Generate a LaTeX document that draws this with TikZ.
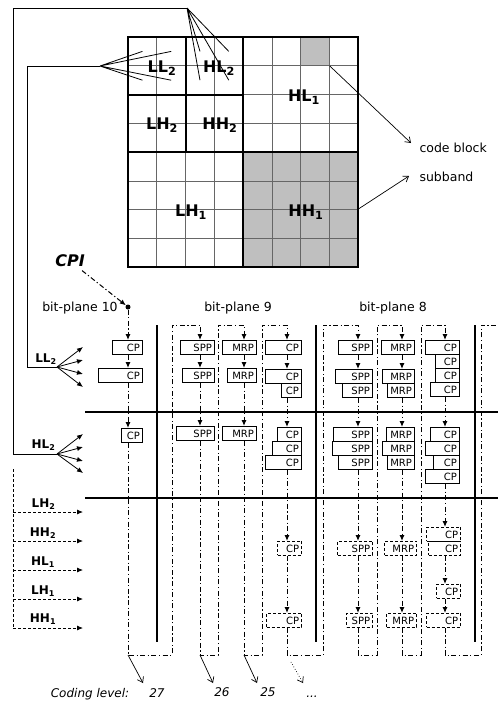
\documentclass[tikz,border=0pt]{standalone}
\usepackage{fontspec}
\setmainfont{DejaVu Sans}
\usetikzlibrary{arrows.meta}

\begin{document}
\begin{tikzpicture}[x=1pt, y=-1pt,
    passbox/.style={draw, line width=1.2pt, anchor=north east, align=right, inner xsep=2.5pt, inner ysep=3.3pt, text height=7.4pt, text depth=0pt, font=\fontsize{10}{11}\selectfont},
    dpassbox/.style={passbox, line width=0.8pt, dash pattern=on 3pt off 2pt},
    flowline/.style={line width=1pt, dash pattern=on 5pt off 2.5pt on 1.2pt off 2.5pt},
    flowtip/.style={-{Latex[length=6pt,width=5pt]}},
    fantip/.style={line width=0.8pt, -{Latex[length=6pt,width=5pt]}},
    dashline/.style={line width=0.8pt, dash pattern=on 3pt off 2pt},
    opentip/.style={line width=0.7pt, -{Straight Barb[length=5pt,width=7pt]}},
    heavy/.style={line width=2pt},
    cellline/.style={black!60, line width=0.7pt},
    bandlabel/.style={font=\fontsize{16}{18}\selectfont\bfseries},
    sublabel/.style={font=\fontsize{12}{14}\selectfont\bfseries},
    plabel/.style={font=\fontsize{12.5}{14}\selectfont},
    lvlabel/.style={font=\fontsize{12}{14}\selectfont\itshape, anchor=base}]
  \useasboundingbox (0,0) rectangle (498,702);

  % wavelet subbands and code blocks
  \fill[black!25] (243.2,152.2) rectangle (358.4,267.4);
  \fill[black!25] (300.8,37) rectangle (329.6,65.8);
  \begin{scope}[shift={(128,37)}]
    \draw[cellline, step=28.8pt] (0,0) grid (230.4,230.4);
  \end{scope}
  \draw[heavy] (128,37) rectangle (358.4,267.4);
  \draw[heavy] (243.2,37) -- (243.2,267.4) (128,152.2) -- (358.4,152.2);
  \draw[heavy] (185.6,37) -- (185.6,152.2) (128,94.6) -- (243.2,94.6);

  \node[bandlabel] (ll2) at (162,68) {LL\textsubscript{2}};
  \node[bandlabel] (hl2) at (219,68) {HL\textsubscript{2}};
  \node[bandlabel] (lh2) at (162,125) {LH\textsubscript{2}};
  \node[bandlabel] (hh2) at (220,125) {HH\textsubscript{2}};
  \node[bandlabel] (hl1) at (304,97) {HL\textsubscript{1}};
  \node[bandlabel] (lh1) at (191,212) {LH\textsubscript{1}};
  \node[bandlabel] (hh1) at (306,212) {HH\textsubscript{1}};

  \coordinate (cb) at (329.6,65.8);
  \coordinate (cbt) at (411,143);
  \coordinate (sb) at (358.4,209);
  \coordinate (sbt) at (409,176);
  \node[plabel, anchor=west] (cbl) at (416,148) {code block};
  \node[plabel, anchor=west] (sbl) at (416,177) {subband};
  \draw[opentip] (cb) -- (cbt);
  \draw[opentip] (sb) -- (sbt);

  % code blocks of LL2 and HL2
  \coordinate (ll2o) at (100,66);
  \coordinate (ll2a) at (142.4,51.4);
  \coordinate (ll2b) at (171.2,51.4);
  \coordinate (ll2c) at (142.4,80.2);
  \coordinate (ll2d) at (171.2,80.2);
  \draw[line width=0.8pt] (ll2o) -- (ll2a) (ll2o) -- (ll2b) (ll2o) -- (ll2c) (ll2o) -- (ll2d);
  \coordinate (hl2o) at (187,8);
  \coordinate (hl2a) at (200,51.4);
  \coordinate (hl2b) at (228.8,51.4);
  \coordinate (hl2c) at (200,80.2);
  \coordinate (hl2d) at (228.8,80.2);
  \draw[line width=0.8pt] (hl2o) -- (hl2a) (hl2o) -- (hl2b) (hl2o) -- (hl2c) (hl2o) -- (hl2d);

  \coordinate (ll2k1) at (27,66);
  \coordinate (ll2k2) at (27,367);
  \coordinate (ll2f) at (57,367);
  \coordinate (hl2k1) at (13,8);
  \coordinate (hl2k2) at (13,454);
  \coordinate (hl2f) at (57,454);
  \draw[line width=0.8pt] (ll2o) -- (ll2k1) -- (ll2k2) -- (ll2f);
  \draw[line width=0.8pt] (hl2o) -- (hl2k1) -- (hl2k2) -- (hl2f);

  \coordinate (ll2e1) at (83,347);
  \coordinate (ll2e2) at (83,360);
  \coordinate (ll2e3) at (83,374);
  \coordinate (ll2e4) at (83,387);
  \draw[fantip] (ll2f) -- (ll2e1);
  \draw[fantip] (ll2f) -- (ll2e2);
  \draw[fantip] (ll2f) -- (ll2e3);
  \draw[fantip] (ll2f) -- (ll2e4);
  \coordinate (hl2e1) at (83,434);
  \coordinate (hl2e2) at (83,447);
  \coordinate (hl2e3) at (83,461);
  \coordinate (hl2e4) at (83,473);
  \draw[fantip] (hl2f) -- (hl2e1);
  \draw[fantip] (hl2f) -- (hl2e2);
  \draw[fantip] (hl2f) -- (hl2e3);
  \draw[fantip] (hl2f) -- (hl2e4);

  \node[sublabel] (sll2) at (46,359) {LL\textsubscript{2}};
  \node[sublabel] (shl2) at (43.5,445) {HL\textsubscript{2}};

  % remaining subbands
  \coordinate (dtop) at (13,469);
  \coordinate (dlh2) at (13,512);
  \coordinate (dhh2) at (13,541);
  \coordinate (dhl1) at (13,570);
  \coordinate (dlh1) at (13,599);
  \coordinate (dhh1) at (13,628);
  \coordinate (elh2) at (83,512);
  \coordinate (ehh2) at (83,541);
  \coordinate (ehl1) at (83,570);
  \coordinate (elh1) at (83,599);
  \coordinate (ehh1) at (83,628);
  \draw[dashline] (dtop) -- (dhh1);
  \draw[dashline, fantip] (dlh2) -- (elh2);
  \draw[dashline, fantip] (dhh2) -- (ehh2);
  \draw[dashline, fantip] (dhl1) -- (ehl1);
  \draw[dashline, fantip] (dlh1) -- (elh1);
  \draw[dashline, fantip] (dhh1) -- (ehh1);
  \node[sublabel] (slh2) at (43.5,504) {LH\textsubscript{2}};
  \node[sublabel] (shh2) at (43,533) {HH\textsubscript{2}};
  \node[sublabel] (shl1) at (43,562) {HL\textsubscript{1}};
  \node[sublabel] (slh1) at (43,591) {LH\textsubscript{1}};
  \node[sublabel] (shh1) at (43,619) {HH\textsubscript{1}};

  % table rules
  \draw[heavy] (85,412) -- (498,412) (85,498) -- (498,498);
  \draw[heavy] (157,325) -- (157,642) (316,325) -- (316,642) (474.5,325) -- (474.5,642);

  \node[plabel] (bp10) at (80,308) {bit-plane 10};
  \node[plabel] (bp9) at (238,308) {bit-plane 9};
  \node[plabel] (bp8) at (393,308) {bit-plane 8};
  \node[font=\fontsize{16}{18}\selectfont\bfseries\itshape] (cpi) at (70,261) {CPI};
  \node[circle, fill, inner sep=0pt, minimum size=5pt] (dot) at (128,307) {};
  \draw[flowline, flowtip] (cpi) -- (dot);

  % coding passes
  \node[passbox, text width=25pt] (p10a) at (143,340) {CP};
  \node[passbox, text width=39pt] (p10b) at (143,368) {CP};
  \node[passbox, text width=16pt] (p10c) at (143,428) {CP};

  \node[passbox, text width=29pt] (s9a) at (215,340) {SPP};
  \node[passbox, text width=27pt] (s9b) at (215,368) {SPP};
  \node[passbox, text width=33pt] (s9c) at (215,426) {SPP};
  \node[passbox, text width=29pt] (m9a) at (257,340) {MRP};
  \node[passbox, text width=24pt] (m9b) at (257,368) {MRP};
  \node[passbox, text width=29pt] (m9c) at (257,426) {MRP};
  \node[passbox, text width=31pt] (c9a) at (302,340) {CP};
  \node[passbox, text width=31pt] (c9b) at (302,369) {CP};
  \node[passbox, text width=15pt] (c9c) at (302,383) {CP};
  \node[passbox, text width=19pt] (c9d) at (302,427) {CP};
  \node[passbox, text width=24pt] (c9e) at (302,441) {CP};
  \node[passbox, text width=31pt] (c9f) at (302,455) {CP};
  \node[dpassbox, text width=19pt] (c9g) at (302,541) {CP};
  \node[dpassbox, text width=30pt] (c9h) at (302,613) {CP};

  \node[passbox, text width=29pt] (s8a) at (373,340) {SPP};
  \node[passbox, text width=32pt] (s8b) at (373,369) {SPP};
  \node[passbox, text width=25pt] (s8c) at (373,383) {SPP};
  \node[passbox, text width=34pt] (s8d) at (373,427) {SPP};
  \node[passbox, text width=35pt] (s8e) at (373,441) {SPP};
  \node[passbox, text width=29pt] (s8f) at (373,455) {SPP};
  \node[dpassbox, text width=30pt] (s8g) at (373,541) {SPP};
  \node[dpassbox, text width=21pt] (s8h) at (373,613) {SPP};
  \node[passbox, text width=28pt] (m8a) at (415,340) {MRP};
  \node[passbox, text width=27pt] (m8b) at (415,369) {MRP};
  \node[passbox, text width=22pt] (m8c) at (415,383) {MRP};
  \node[passbox, text width=23pt] (m8d) at (415,427) {MRP};
  \node[passbox, text width=27pt] (m8e) at (415,441) {MRP};
  \node[passbox, text width=22pt] (m8f) at (415,455) {MRP};
  \node[dpassbox, text width=27pt] (m8g) at (417,541) {MRP};
  \node[dpassbox, text width=25pt] (m8h) at (417,613) {MRP};
  \node[passbox, text width=29pt] (c8a) at (460,340) {CP};
  \node[passbox, text width=19pt] (c8b) at (460,354) {CP};
  \node[passbox, text width=19pt] (c8c) at (460,368) {CP};
  \node[passbox, text width=24pt] (c8d) at (460,382) {CP};
  \node[passbox, text width=24pt] (c8e) at (460,427) {CP};
  \node[passbox, text width=29pt] (c8f) at (460,441) {CP};
  \node[passbox, text width=21pt] (c8g) at (460,455) {CP};
  \node[passbox, text width=29pt] (c8h) at (460,469) {CP};
  \node[dpassbox, text width=29pt] (c8i) at (461,527) {CP};
  \node[dpassbox, text width=27pt] (c8j) at (461,541) {CP};
  \node[dpassbox, text width=19pt] (c8k) at (461,584) {CP};
  \node[dpassbox, text width=29pt] (c8l) at (461,613) {CP};

  % corners of the coding levels
  \coordinate (t9s) at (200,325);
  \coordinate (t9m) at (244,325);
  \coordinate (t9c) at (287,325);
  \coordinate (t8s) at (358,325);
  \coordinate (t8m) at (402,325);
  \coordinate (t8c) at (445,325);
  \coordinate (bl27) at (128,655);
  \coordinate (br27) at (172,655);
  \coordinate (tr27) at (172,325);
  \coordinate (bl26) at (200,655);
  \coordinate (br26) at (218,655);
  \coordinate (tr26) at (218,325);
  \coordinate (bl25) at (244,655);
  \coordinate (br25) at (262,655);
  \coordinate (tr25) at (262,325);
  \coordinate (bl24) at (287,655);
  \coordinate (br24) at (323,655);
  \coordinate (tr24) at (323,325);
  \coordinate (bl23) at (358,655);
  \coordinate (br23) at (377,655);
  \coordinate (tr23) at (377,325);
  \coordinate (bl22) at (402,655);
  \coordinate (br22) at (421,655);
  \coordinate (tr22) at (421,325);
  \coordinate (bl21) at (445,655);
  \coordinate (br21) at (481,655);
  \coordinate (tr21) at (481,325);
  \coordinate (tend) at (498,325);

  % bit-plane 10
  \draw[flowline, flowtip] (dot) -- (dot |- p10a.north);
  \draw[flowline, flowtip] (dot |- p10a.south) -- (dot |- p10b.north);
  \draw[flowline, flowtip] (dot |- p10b.south) -- (dot |- p10c.north);
  \draw[flowline, flowtip] (dot |- p10c.south) -- (bl27) -- (br27) -- (tr27) -- (t9s) -- (t9s |- s9a.north);
  % bit-plane 9
  \draw[flowline, flowtip] (t9s |- s9a.south) -- (t9s |- s9b.north);
  \draw[flowline, flowtip] (t9s |- s9b.south) -- (t9s |- s9c.north);
  \draw[flowline, flowtip] (t9s |- s9c.south) -- (bl26) -- (br26) -- (tr26) -- (t9m) -- (t9m |- m9a.north);
  \draw[flowline, flowtip] (t9m |- m9a.south) -- (t9m |- m9b.north);
  \draw[flowline, flowtip] (t9m |- m9b.south) -- (t9m |- m9c.north);
  \draw[flowline, flowtip] (t9m |- m9c.south) -- (bl25) -- (br25) -- (tr25) -- (t9c) -- (t9c |- c9a.north);
  \draw[flowline, flowtip] (t9c |- c9a.south) -- (t9c |- c9b.north);
  \draw[flowline, flowtip] (t9c |- c9c.south) -- (t9c |- c9d.north);
  \draw[flowline, flowtip] (t9c |- c9f.south) -- (t9c |- c9g.north);
  \draw[flowline, flowtip] (t9c |- c9g.south) -- (t9c |- c9h.north);
  \draw[flowline, flowtip] (t9c |- c9h.south) -- (bl24) -- (br24) -- (tr24) -- (t8s) -- (t8s |- s8a.north);
  % bit-plane 8
  \draw[flowline, flowtip] (t8s |- s8a.south) -- (t8s |- s8b.north);
  \draw[flowline, flowtip] (t8s |- s8c.south) -- (t8s |- s8d.north);
  \draw[flowline, flowtip] (t8s |- s8f.south) -- (t8s |- s8g.north);
  \draw[flowline, flowtip] (t8s |- s8g.south) -- (t8s |- s8h.north);
  \draw[flowline, flowtip] (t8s |- s8h.south) -- (bl23) -- (br23) -- (tr23) -- (t8m) -- (t8m |- m8a.north);
  \draw[flowline, flowtip] (t8m |- m8a.south) -- (t8m |- m8b.north);
  \draw[flowline, flowtip] (t8m |- m8c.south) -- (t8m |- m8d.north);
  \draw[flowline, flowtip] (t8m |- m8f.south) -- (t8m |- m8g.north);
  \draw[flowline, flowtip] (t8m |- m8g.south) -- (t8m |- m8h.north);
  \draw[flowline, flowtip] (t8m |- m8h.south) -- (bl22) -- (br22) -- (tr22) -- (t8c) -- (t8c |- c8a.north);
  \draw[flowline, flowtip] (t8c |- c8d.south) -- (t8c |- c8e.north);
  \draw[flowline, flowtip] (t8c |- c8h.south) -- (t8c |- c8i.north);
  \draw[flowline, flowtip] (t8c |- c8j.south) -- (t8c |- c8k.north);
  \draw[flowline, flowtip] (t8c |- c8k.south) -- (t8c |- c8l.north);
  \draw[flowline] (t8c |- c8l.south) -- (bl21) -- (br21) -- (tr21) -- (tend);

  % coding levels
  \coordinate (lv27) at (143,683);
  \coordinate (lv26) at (213,683);
  \coordinate (lv25) at (257,683);
  \coordinate (lv24) at (303,683);
  \draw[opentip] (bl27) -- (lv27);
  \draw[opentip] (bl26) -- (lv26);
  \draw[opentip] (bl25) -- (lv25);
  \draw[opentip, dotted, shorten <=8pt] (bl24) -- (lv24);
  \node[lvlabel] (lvtext) at (90,697) {Coding level:};
  \node[lvlabel] (n27) at (157,697) {27};
  \node[lvlabel] (n26) at (222,696) {26};
  \node[lvlabel] (n25) at (268,696) {25};
  \node[lvlabel] (ndots) at (312,697) {...};
\end{tikzpicture}
\end{document}
